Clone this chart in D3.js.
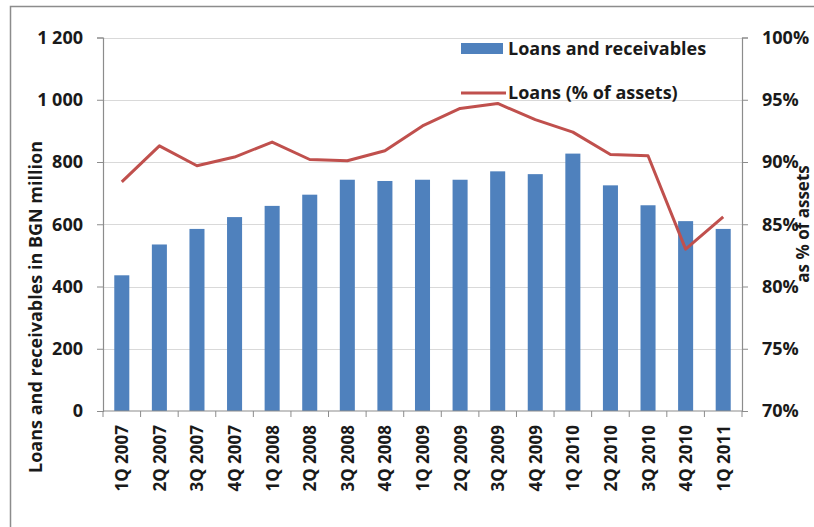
<!DOCTYPE html>
<html>
<head>
<meta charset="utf-8">
<script src="https://cdn.jsdelivr.net/npm/d3@7"></script>
<style>
  html, body { margin: 0; padding: 0; background: #fff; }
  svg { display: block; font-family: "Open Sans", Lato, sans-serif; font-weight: 700; }
</style>
</head>
<body>
<svg id="chart" width="814" height="527"></svg>
<script>
// Quarterly data
const quarters = ["1Q 2007","2Q 2007","3Q 2007","4Q 2007","1Q 2008","2Q 2008","3Q 2008","4Q 2008",
                  "1Q 2009","2Q 2009","3Q 2009","4Q 2009","1Q 2010","2Q 2010","3Q 2010","4Q 2010","1Q 2011"];
// Loans and receivables, BGN million
const loansReceivables = [436, 535, 585, 623, 659, 695, 743, 739, 743, 743, 770, 761, 827, 725, 661, 610, 585];
// Loans as % of assets
const loansShare = [88.4, 91.3, 89.7, 90.4, 91.6, 90.2, 90.1, 90.9, 92.9, 94.3, 94.7, 93.4, 92.4, 90.6, 90.5, 83.0, 85.6];

const leftTicks = [0, 200, 400, 600, 800, 1000, 1200];
const rightTicks = [70, 75, 80, 85, 90, 95, 100];

const FONT = "'Open Sans', Lato, sans-serif";
const FS = 18;
const INK = "#1a1a1a";
const AXIS = "#8c8c8c";

const svg = d3.select("#chart");
const plot = { left: 103, right: 742, top: 37.5, bottom: 411 };

// Outer frame
svg.append("rect")
  .attr("x", 10.5).attr("y", 6.5).attr("width", 900).attr("height", 700)
  .attr("fill", "#fff").attr("stroke", AXIS).attr("stroke-width", 1.5);

const x = d3.scaleBand().domain(quarters).range([plot.left, plot.right]);
const yL = d3.scaleLinear().domain([0, 1200]).range([plot.bottom, plot.top]);
const yR = d3.scaleLinear().domain([70, 100]).range([plot.bottom, plot.top]);
const cx = d => x(d) + x.bandwidth() / 2;

const fmtLeft = d => d >= 1000 ? d3.format(",")(d).replace(",", " ") : String(d);

// Gridlines
svg.append("g").selectAll("line").data(leftTicks.slice(1)).join("line")
  .attr("x1", plot.left).attr("x2", plot.right)
  .attr("y1", d => Math.round(yL(d)) + 0.5).attr("y2", d => Math.round(yL(d)) + 0.5)
  .attr("stroke", "#d9d9d9").attr("stroke-width", 1.2);

// Bars
const barW = x.bandwidth() * 0.4;
svg.append("g").selectAll("rect").data(quarters).join("rect")
  .attr("x", d => cx(d) - barW / 2)
  .attr("width", barW)
  .attr("y", (d, i) => yL(loansReceivables[i]))
  .attr("height", (d, i) => yL(0) - yL(loansReceivables[i]))
  .attr("fill", "#4f81bd");

function styleAxis(g) {
  g.select(".domain").attr("stroke", AXIS).attr("stroke-width", 1.2);
  g.selectAll(".tick line").attr("stroke", AXIS);
  g.selectAll(".tick text").attr("font-size", FS).attr("font-family", FONT)
    .attr("font-weight", 700).attr("fill", INK);
}

// Left axis
svg.append("g").attr("transform", `translate(${plot.left},0)`)
  .call(d3.axisLeft(yL).tickValues(leftTicks).tickFormat(fmtLeft).tickSize(6).tickPadding(14))
  .call(styleAxis);

// Right axis
svg.append("g").attr("transform", `translate(${plot.right},0)`)
  .call(d3.axisRight(yR).tickValues(rightTicks).tickFormat(d => d + "%").tickSize(6).tickPadding(14))
  .call(styleAxis);

// Bottom axis: tick marks sit between categories
const gB = svg.append("g").attr("transform", `translate(0,${plot.bottom})`);
gB.append("line").attr("x1", plot.left).attr("x2", plot.right).attr("y1", 0).attr("y2", 0)
  .attr("stroke", AXIS).attr("stroke-width", 1.2);
gB.selectAll("line.tk").data(d3.range(quarters.length + 1)).join("line").attr("class", "tk")
  .attr("x1", i => plot.left + i * x.step()).attr("x2", i => plot.left + i * x.step())
  .attr("y1", 0).attr("y2", 6).attr("stroke", AXIS);
gB.selectAll("text").data(quarters).join("text")
  .attr("transform", d => `translate(${cx(d) + 6.5},14) rotate(-90)`)
  .attr("text-anchor", "end")
  .attr("font-size", 17).attr("fill", INK)
  .text(d => d);

// Line
svg.append("path").datum(loansShare)
  .attr("fill", "none").attr("stroke", "#c0504d").attr("stroke-width", 3).attr("stroke-linejoin", "round")
  .attr("d", d3.line().x((d, i) => cx(quarters[i])).y(d => yR(d)));

// Axis titles
svg.append("text")
  .attr("transform", "translate(42,307) rotate(-90)")
  .attr("text-anchor", "middle").attr("font-size", FS).attr("fill", INK)
  .text("Loans and receivables in BGN million");
svg.append("text")
  .attr("transform", "translate(809,224) rotate(-90)")
  .attr("text-anchor", "middle").attr("font-size", 17).attr("fill", INK)
  .text("as % of assets");

// Legend
const lg = svg.append("g");
lg.append("rect").attr("x", 461).attr("y", 43).attr("width", 42).attr("height", 11).attr("fill", "#4f81bd");
lg.append("text").attr("x", 508).attr("y", 55).attr("font-size", FS).attr("fill", INK)
  .text("Loans and receivables");
lg.append("line").attr("x1", 461).attr("x2", 506).attr("y1", 93).attr("y2", 93)
  .attr("stroke", "#c0504d").attr("stroke-width", 3);
lg.append("text").attr("x", 508).attr("y", 99).attr("font-size", FS).attr("fill", INK)
  .text("Loans (% of assets)");
</script>
</body>
</html>
